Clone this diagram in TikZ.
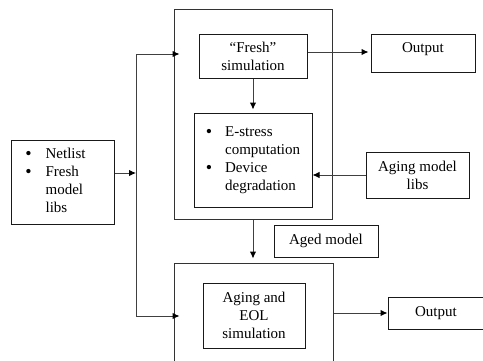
\documentclass[tikz,border=0pt]{standalone}
\usepackage{fontspec}
\setmainfont{Liberation Serif}
\usetikzlibrary{positioning, arrows.meta}
\tikzset{%
  block/.style    = {draw = black!90, line width = 1pt, rectangle,
    inner sep = 0pt, align = center},
  frame/.style    = {draw = black!80, line width = 1pt, rectangle,
    inner sep = 0pt},
  line/.style     = {draw = black!75, line width = 1pt,
    -{Latex[length = 7pt, width = 6.5pt, black]}},
  junction/.style = {coordinate}
}
\newcommand{\itm}{\raisebox{-0.8pt}{\fontsize{18}{18}\selectfont\textbullet}}

\begin{document}
\begin{tikzpicture}[x = 1pt, y = -1pt, font = \fontsize{15}{18}\selectfont]
\useasboundingbox (0,0) rectangle (483,360);
%frames
\draw
	(253,114) node [frame, minimum width = 158pt, minimum height = 210pt] (agingframe) {}
	(253.5,313) node [frame, minimum width = 159pt, minimum height = 100pt] (eolframe) {};
%blocks
\draw
	(253,56) node [block, minimum width = 108pt, minimum height = 44pt] (fresh) {``Fresh''\\simulation}
	(423,53) node [block, minimum width = 104pt, text height = 18.7pt, text depth = 19.3pt] (outfresh) {Output}
	(253,160) node [block, minimum width = 118pt, minimum height = 94pt] (stress)
		{\begin{tabular}{@{}l@{\hspace{13pt}}l@{}}
		\itm & E-stress\\ & computation\\ \itm & Device\\ & degradation
		\end{tabular}}
	(417.5,175) node [block, minimum width = 103pt, minimum height = 46pt] (libs) {Aging model\\libs}
	(62.5,182) node [block, minimum width = 103pt, minimum height = 84pt] (netlist)
		{\begin{tabular}{@{}l@{\hspace{14pt}}l@{}}
		\itm & Netlist\\ \itm & Fresh\\ & model\\ & libs
		\end{tabular}\hspace{14pt}}
	(326,241) node [block, minimum width = 104pt, minimum height = 32pt] (aged) {Aged model}
	(254,315.5) node [block, minimum width = 102pt, minimum height = 65pt] (eol) {Aging and\\EOL\\simulation}
	(436,313) node [block, minimum width = 96pt, minimum height = 32pt] (outeol) {Output};
%split points
\node [junction] (split) at (136,173) {};
\node [junction] (splittop) at (136,54) {};
\node [junction] (splitbot) at (136,316) {};
%lines
\draw[line] (netlist.east |- split) -- (split);
\draw[black!75, line width = 1pt] (splittop) -- (splitbot);
\draw[line, shorten >= -6pt] (splittop) -- (splittop -| agingframe.west);
\draw[line, shorten >= -6pt] (splitbot) -- (splitbot -| eolframe.west);
\draw[line, shorten >= 2pt] (fresh.east |- 0,52) -- (outfresh.west |- 0,52);
\draw[line, shorten >= 3pt] (fresh) -- (stress);
\draw[line] (libs) -- (stress.east |- libs);
\draw[line, shorten >= 4pt] (agingframe.south) -- (agingframe.south |- eolframe.north);
\draw[line] (eolframe.east |- outeol) -- (outeol);
\end{tikzpicture}
\end{document}
